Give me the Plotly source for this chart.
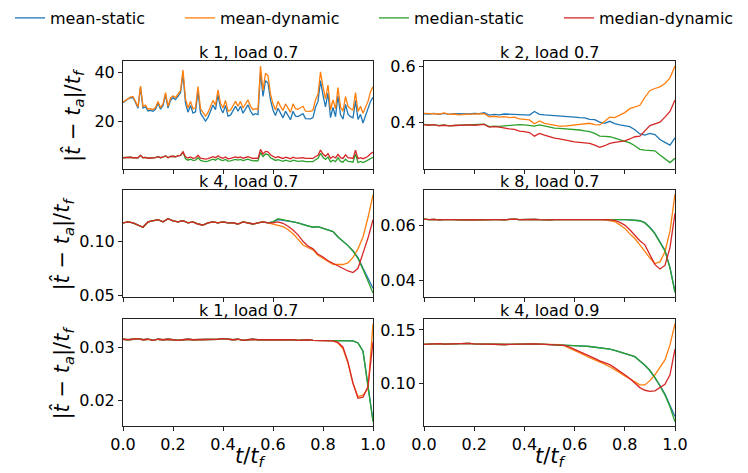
import numpy as np
import plotly.graph_objects as go

# series names and panel titles
series = ["mean-static", "mean-dynamic", "median-static", "median-dynamic"]
titles = ["k 1, load 0.7", "k 2, load 0.7", "k 4, load 0.7",
          "k 8, load 0.7", "k 1, load 0.7", "k 4, load 0.9"]

# panel 1: k 1, load 0.7 (101 samples over t/t_f)
p1_mean_static = [27.5, 28.3, 29.0, 29.5, 29.6, 27.6, 25.2, 33.6, 25.3, 25.8,
                  24.1, 24.3, 24.0, 24.8, 27.2, 24.8, 26.2, 30.8, 25.3, 28.5,
                  29.5, 28.7, 30.1, 31.5, 39.0, 27.3, 23.6, 26.3, 23.2, 23.7,
                  32.2, 23.2, 21.6, 20.0, 21.5, 24.0, 26.5, 24.6, 30.7, 25.4,
                  23.3, 26.4, 22.0, 22.4, 24.5, 26.0, 24.0, 26.0, 23.2, 25.0,
                  26.6, 24.0, 22.5, 23.0, 22.6, 40.0, 30.0, 36.5, 35.5, 28.5,
                  24.5, 22.2, 25.2, 23.2, 21.3, 24.0, 22.0, 20.5, 24.0, 22.0,
                  21.8, 22.4, 23.0, 21.0, 20.8, 20.9, 21.4, 25.6, 28.0, 36.5,
                  30.5, 25.8, 31.5, 21.4, 25.5, 21.8, 30.3, 22.5, 20.8, 26.8,
                  22.8, 21.8, 21.3, 28.3, 20.6, 22.7, 19.2, 22.3, 24.8, 28.0, 29.7]
p1_mean_dynamic = [27.7, 28.5, 29.3, 29.8, 30.0, 28.0, 25.8, 34.3, 26.0, 26.5,
                   24.8, 25.0, 24.7, 25.5, 28.0, 25.5, 27.0, 31.6, 26.0, 29.3,
                   30.3, 29.5, 31.0, 32.5, 40.8, 29.0, 25.3, 28.0, 25.0, 25.5,
                   34.1, 25.0, 23.5, 22.0, 23.5, 26.0, 28.4, 26.5, 32.7, 27.3,
                   25.3, 28.4, 24.0, 24.4, 26.5, 28.0, 26.0, 28.0, 25.3, 27.0,
                   28.6, 26.0, 24.6, 25.0, 24.7, 42.4, 32.5, 39.5, 38.5, 31.0,
                   27.0, 24.5, 28.0, 26.0, 24.3, 27.0, 25.0, 23.5, 27.0, 25.0,
                   24.8, 25.5, 26.0, 24.0, 23.9, 23.9, 24.5, 28.6, 31.0, 40.1,
                   34.0, 29.0, 34.7, 24.6, 28.6, 25.0, 33.6, 25.7, 24.0, 30.0,
                   26.0, 25.0, 24.5, 31.6, 23.9, 26.0, 23.2, 25.5, 28.0, 32.0, 34.0]
p1_median_static = [5.0, 5.1, 5.2, 5.2, 5.0, 4.9, 5.0, 6.0, 5.0, 5.1,
                    4.8, 4.9, 4.8, 5.0, 5.4, 5.0, 5.2, 5.8, 5.0, 5.5,
                    5.6, 5.4, 5.8, 6.0, 7.2, 4.6, 4.0, 4.4, 3.9, 4.0,
                    5.0, 3.9, 3.6, 3.4, 3.6, 4.0, 4.4, 4.0, 4.8, 4.1,
                    3.8, 4.3, 3.6, 3.7, 4.0, 4.3, 4.0, 4.3, 3.8, 4.1,
                    4.4, 4.0, 3.7, 3.8, 3.7, 7.2, 5.4, 6.5, 6.3, 5.0,
                    4.3, 3.9, 4.2, 3.8, 3.5, 4.0, 3.6, 3.4, 4.0, 3.6,
                    3.5, 3.6, 3.7, 3.4, 3.3, 3.3, 3.4, 4.2, 4.8, 6.8,
                    5.2, 4.3, 5.3, 3.3, 4.0, 3.4, 5.0, 3.5, 3.2, 4.4,
                    3.5, 3.4, 3.2, 6.6, 3.0, 3.5, 3.0, 3.5, 4.0, 4.8, 5.2]
p1_median_dynamic = [5.0, 5.1, 5.2, 5.2, 5.0, 4.9, 5.0, 6.0, 5.0, 5.1,
                     4.8, 4.9, 4.8, 5.0, 5.4, 5.0, 5.2, 5.8, 5.0, 5.5,
                     5.6, 5.4, 5.8, 6.0, 7.4, 5.4, 4.9, 5.3, 4.8, 4.9,
                     6.0, 4.8, 4.6, 4.4, 4.6, 5.0, 5.4, 5.0, 5.8, 5.1,
                     4.8, 5.3, 4.6, 4.7, 5.0, 5.3, 5.0, 5.3, 4.8, 5.1,
                     5.4, 5.0, 4.7, 4.8, 4.7, 8.4, 6.5, 7.6, 7.4, 6.2,
                     5.5, 5.0, 5.4, 5.0, 4.7, 5.2, 4.8, 4.6, 5.2, 4.8,
                     4.8, 4.9, 5.0, 4.7, 4.6, 4.6, 4.7, 5.5, 6.0, 8.1,
                     6.5, 5.6, 6.7, 4.8, 5.5, 4.9, 6.4, 5.0, 4.7, 6.2,
                     5.0, 4.9, 4.7, 8.1, 4.6, 5.0, 4.6, 5.0, 5.6, 6.6, 7.3]

# panel 2: k 2, load 0.7 (51 samples)
p2_mean_static = [.432, .431, .433, .430, .433, .430, .432, .431, .432, .431,
                  .433, .432, .436, .427, .430, .428, .431, .430, .429, .430,
                  .428, .427, .440, .430, .428, .427, .425, .424, .423, .422,
                  .420, .418, .417, .412, .411, .402, .398, .405, .397, .392,
                  .388, .386, .375, .360, .356, .362, .358, .340, .330, .320, .346]
p2_mean_dynamic = [.433, .432, .433, .431, .435, .430, .431, .428, .430, .431,
                   .430, .431, .432, .421, .423, .420, .422, .418, .420, .414,
                   .413, .410, .396, .406, .398, .394, .390, .388, .388, .390,
                   .390, .393, .395, .398, .393, .392, .405, .420, .418, .428,
                   .436, .450, .455, .462, .490, .515, .522, .528, .540, .560, .602]
p2_median_static = [.394, .392, .393, .390, .392, .389, .390, .391, .392, .391,
                    .392, .393, .395, .386, .388, .387, .389, .390, .392, .393,
                    .392, .391, .388, .392, .388, .384, .381, .380, .379, .377,
                    .376, .374, .371, .368, .362, .352, .351, .350, .345, .340,
                    .334, .328, .318, .305, .302, .300, .300, .285, .272, .258, .273]
p2_median_dynamic = [.392, .391, .393, .389, .391, .389, .390, .391, .390, .392,
                     .391, .393, .394, .384, .386, .384, .380, .378, .376, .370,
                     .368, .365, .352, .362, .356, .350, .345, .342, .338, .334,
                     .332, .330, .328, .326, .320, .312, .318, .326, .330, .332,
                     .335, .342, .350, .352, .370, .390, .396, .402, .420, .440, .481]

# panel 3: k 4, load 0.7 (shared flat start, then per-series tails)
p3_flat = [.117, .118, .117, .115, .113, .118, .119, .120, .118, .121,
           .119, .118, .119, .117, .118, .116, .115, .117, .118, .117,
           .118, .117, .117, .116, .118, .117, .116, .117, .118, .117]
p3_mean_static = [.118, .120, .1195, .119, .118, .117, .1155, .1145, .113, .1135,
                  .112, .1105, .109, .104, .100, .096, .091, .085, .075, .065, .0565]
p3_mean_dynamic = [.116, .115, .1136, .111, .107, .102, .0966, .094, .092, .087,
                   .084, .081, .0787, .0785, .0785, .080, .085, .093, .104, .122, .143]
p3_median_static = [.118, .121, .120, .119, .1185, .117, .1155, .1145, .113, .1135,
                    .112, .1105, .109, .104, .100, .096, .091, .084, .074, .063, .052]
p3_median_dynamic = [.117, .118, .1167, .114, .1105, .106, .100, .0955, .093, .088,
                     .0855, .082, .0796, .077, .075, .0725, .071, .075, .089, .103, .120]

# panel 4: k 8, load 0.7
p4_flat = [.0624, .0622, .0623, .0621, .0622, .0623, .0622, .0621, .0622, .0623,
           .0622, .0621, .0622, .0623, .0622, .0622, .0621, .0623, .0624, .0622,
           .0623, .0622, .0623, .0622, .0621, .0621, .0622, .0622, .0623, .0622,
           .0623, .0622, .0623, .0624, .0622]
p4_mean_static = [.0623, .0622, .0622, .0623, .0622, .0622, .0621, .0620,
                  .0618, .0611, .0594, .0572, .0542, .0510, .0448, .0360]
p4_mean_dynamic = [.0622, .0621, .0619, .0615, .0603, .0590, .0570, .0553,
                   .0530, .0505, .0482, .0462, .0468, .0505, .0580, .0715]
p4_median_static = [.0623, .0622, .0622, .0623, .0622, .0622, .0621, .0620,
                    .0618, .0610, .0592, .0570, .0540, .0508, .0445, .0356]
p4_median_dynamic = [.0623, .0622, .0621, .0619, .0612, .0602, .0585, .0565,
                     .0545, .0530, .0492, .0458, .0442, .0455, .0520, .0645]

# panel 5: k 1, load 0.7 (bottom)
p5_flat = [.0315, .0314, .0315, .0316, .0314, .0315, .0313, .0315, .0314, .0315,
           .0314, .0313, .0314, .0315, .0314, .0314, .0315, .0314, .0315, .0315,
           .0316, .0315, .0314, .0315, .0313, .0314, .0315, .0314, .0314, .0315,
           .0314, .0314, .0315, .0314, .0314, .0313, .0314, .0314, .0313, .0313, .0313]
p5_mean_static = [.0313, .0313, .0313, .0313, .0313, .0312, .0308, .0293, .0228, .0162]
p5_mean_dynamic = [.0313, .0312, .0308, .0297, .0270, .0232, .0207, .0210, .0222, .0344]
p5_median_static = [.0313, .0313, .0313, .0313, .0313, .0312, .0308, .0292, .0226, .0160]
p5_median_dynamic = [.0313, .0312, .0309, .0300, .0272, .0232, .0204, .0206, .0226, .0310]

# panel 6: k 4, load 0.9
p6_flat = [.1365, .1368, .1370, .1372, .1368, .1370, .1366, .1368, .1372, .1375,
           .1370, .1368, .1366, .1364, .1368, .1366, .1364, .1366, .1368, .1367,
           .1366, .1368, .1370, .1368, .1366, .1364, .1365]
p6_mean_static = [.1364, .1362, .136, .1353, .135, .1348, .1345, .134, .1335, .1328,
                  .132, .131, .1295, .128, .1265, .125, .121, .117, .112, .1055,
                  .098, .090, .080, .0688]
p6_mean_dynamic = [.1362, .1350, .133, .131, .129, .1265, .124, .122, .1205, .118,
                   .1155, .113, .110, .107, .104, .101, .0985, .0985, .1025, .108,
                   .115, .122, .136, .156]
p6_median_static = [.1364, .1362, .136, .1353, .135, .1348, .1345, .134, .1335, .1328,
                    .132, .131, .1295, .128, .1265, .125, .121, .117, .112, .1055,
                    .0975, .089, .078, .064]
p6_median_dynamic = [.1363, .1355, .134, .132, .130, .128, .1257, .1234, .121, .1195,
                     .1175, .1145, .1115, .108, .1045, .100, .096, .0935, .0925, .093,
                     .096, .099, .108, .132]

# tick labels
x_ticks = [0.0, 0.2, 0.4, 0.6, 0.8, 1.0]
y_ticks = [[20, 40], [0.4, 0.6], [0.05, 0.10], [0.04, 0.06], [0.02, 0.03], [0.10, 0.15]]

panels = [
    [p1_mean_static, p1_mean_dynamic, p1_median_static, p1_median_dynamic],
    [p2_mean_static, p2_mean_dynamic, p2_median_static, p2_median_dynamic],
    [p3_flat + p3_mean_static, p3_flat + p3_mean_dynamic,
     p3_flat + p3_median_static, p3_flat + p3_median_dynamic],
    [p4_flat + p4_mean_static, p4_flat + p4_mean_dynamic,
     p4_flat + p4_median_static, p4_flat + p4_median_dynamic],
    [p5_flat + p5_mean_static, p5_flat + p5_mean_dynamic,
     p5_flat + p5_median_static, p5_flat + p5_median_dynamic],
    [p6_flat + p6_mean_static, p6_flat + p6_mean_dynamic,
     p6_flat + p6_median_static, p6_flat + p6_median_dynamic],
]

colors = ["#1f77b4", "#ff7f0e", "#2ca02c", "#d62728"]
legend_names = ["legend", "legend2", "legend3", "legend4"]

W, H = 748, 473
OFF = 8  # page body margin: positions below are in screen pixels minus this


def px_x(x):
    return (x - OFF) / W


def px_y(y):
    return 1 - (y - OFF) / H


legend_x_px = [10, 180, 374, 559]
col_dom = [[px_x(123), px_x(373)], [px_x(424), px_x(675)]]
row_dom = [[px_y(169), px_y(61)], [px_y(297), px_y(190)], [px_y(426), px_y(319)]]
y_ranges = [[0.4, 44.5], [0.235, 0.62], [0.0484, 0.1475], [0.034, 0.073], [0.0152, 0.0353], [0.060, 0.1603]]
y_formats = ["d", ".1f", ".2f", ".2f", ".2f", ".2f"]

font = "DejaVu Sans"
fs = 16
fig = go.Figure()
annotations = []

for p, ys in enumerate(panels):
    row, col = p // 2, p % 2
    sfx = "" if p == 0 else str(p + 1)
    for s, y in enumerate(ys):
        fig.add_trace(go.Scatter(
            x=np.linspace(0, 1, len(y)), y=y, mode="lines", name=series[s],
            line=dict(color=colors[s], width=1.3),
            xaxis="x" + sfx, yaxis="y" + sfx,
            showlegend=(p == 0), legend=legend_names[s]))

    axis_style = dict(showline=True, linecolor="#222", linewidth=1, mirror=True,
                      ticks="outside", ticklen=4, tickwidth=1, tickcolor="#222",
                      showgrid=False, zeroline=False,
                      tickfont=dict(family=font, size=fs, color="black"))
    fig.layout["xaxis" + sfx] = dict(
        domain=col_dom[col], anchor="y" + sfx, range=[0, 1],
        tickvals=x_ticks, tickformat=".1f", showticklabels=(row == 2), **axis_style)
    fig.layout["yaxis" + sfx] = dict(
        domain=row_dom[row], anchor="x" + sfx, range=y_ranges[p],
        tickvals=y_ticks[p], tickformat=y_formats[p], **axis_style)

    # panel title
    annotations.append(dict(
        text=titles[p], xref="paper", yref="paper",
        x=sum(col_dom[col]) / 2, y=row_dom[row][1], xanchor="center", yanchor="bottom",
        yshift=-3, showarrow=False, font=dict(family=font, size=fs, color="black")))

# y labels on left column
ylab = "|<i>t̂</i> − <i>t</i><sub><i>a</i></sub>|/<i>t</i><sub><i>f</i></sub>"
for row, xc in zip(range(3), [73, 63, 63]):
    annotations.append(dict(
        text=ylab, xref="paper", yref="paper", x=px_x(xc), y=sum(row_dom[row]) / 2,
        xanchor="center", yanchor="middle", textangle=-90, showarrow=False,
        font=dict(family=font, size=21, color="black")))

# x labels under bottom row
for col in range(2):
    annotations.append(dict(
        text="<i>t</i>/<i>t</i><sub><i>f</i></sub>", xref="paper", yref="paper",
        x=px_x(251 + col * 300), y=px_y(457), xanchor="center", yanchor="middle",
        showarrow=False, font=dict(family=font, size=21, color="black")))

legends = {}
for i, name in enumerate(legend_names):
    legends[name] = dict(
        x=px_x(legend_x_px[i]), y=px_y(18), xanchor="left", yanchor="middle",
        orientation="h", itemwidth=30, bgcolor="rgba(0,0,0,0)", borderwidth=0,
        font=dict(family=font, size=fs, color="black"))

fig.update_layout(
    width=W, height=H,
    margin=dict(l=0, r=0, t=0, b=0, autoexpand=False),
    paper_bgcolor="white", plot_bgcolor="white",
    annotations=annotations,
    **legends,
)

fig.write_html("out.html")
